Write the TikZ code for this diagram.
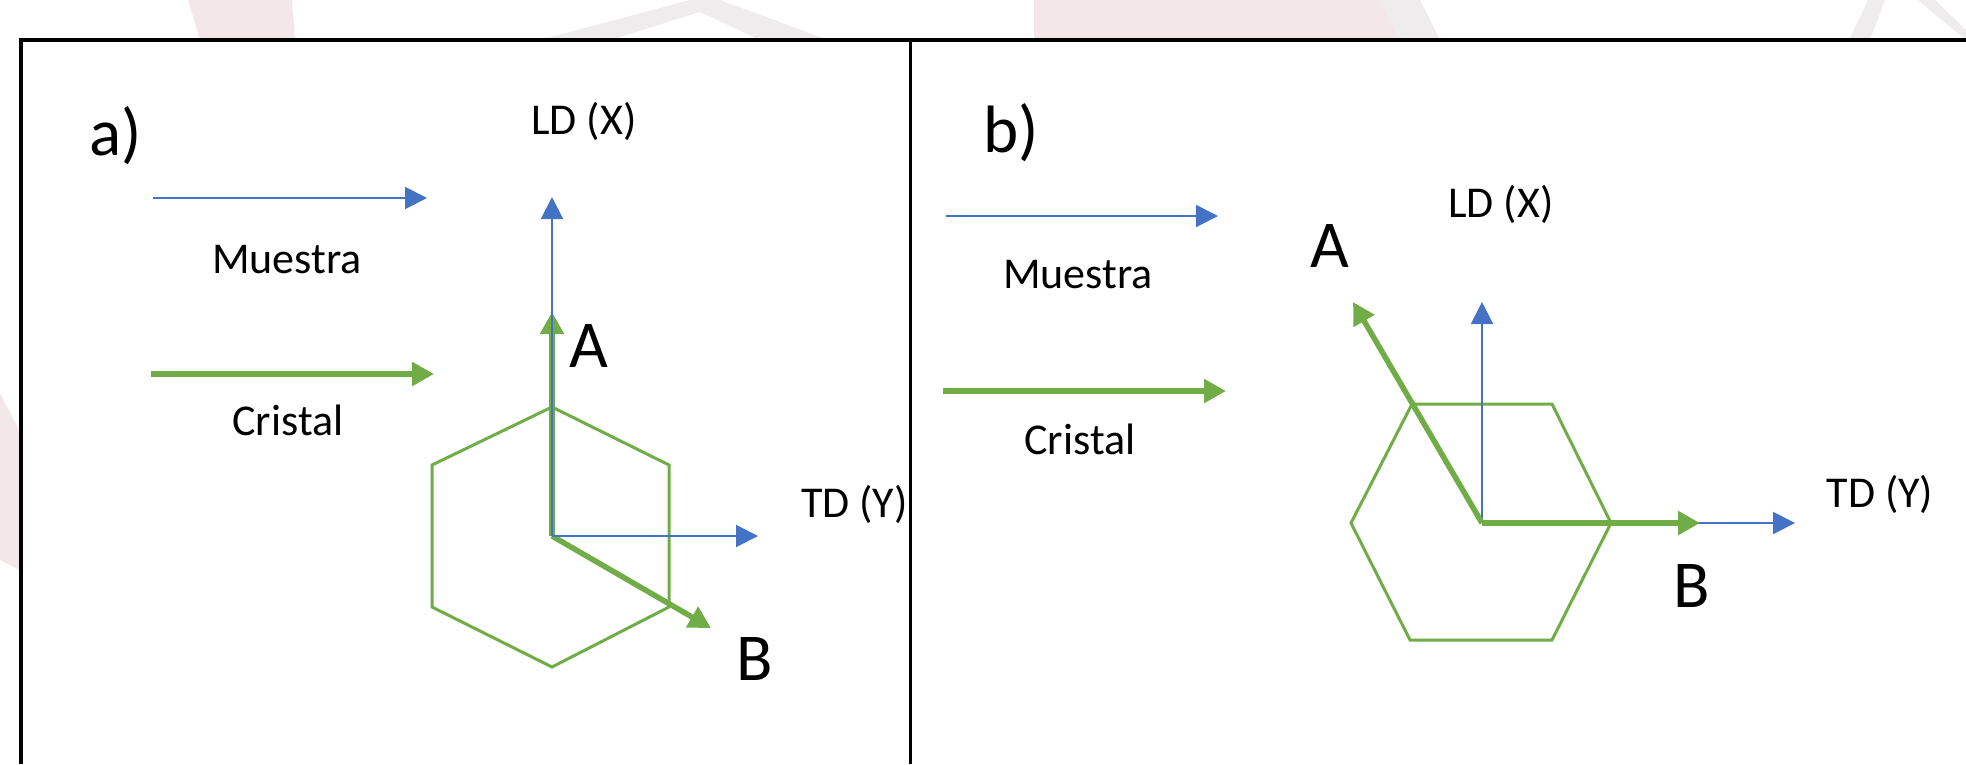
\documentclass[tikz,border=0pt]{standalone}
\usepackage{fontspec}
\setmainfont{Carlito}
\usetikzlibrary{arrows.meta}
\definecolor{axblue}{HTML}{4472C4}
\definecolor{crgreen}{HTML}{70AD47}
\definecolor{wmpink}{HTML}{F3E7E9}
\definecolor{wmgray}{HTML}{EEECEC}
\begin{document}
\begin{tikzpicture}[x=1pt,y=-1pt,
  thinax/.style={draw=axblue,line width=2pt,-{Triangle[length=22pt,width=22pt]}},
  thickax/.style={draw=crgreen,line width=5.5pt,-{Triangle[length=22pt,width=23pt]}},
  hexline/.style={draw=crgreen,line width=3pt,line join=miter},
  lbl/.style={inner sep=0pt,anchor=base,font=\fontsize{44}{52}\selectfont},
  biglbl/.style={inner sep=0pt,anchor=base,font=\fontsize{67}{80}\selectfont},
  wm/.style={fill=wmpink,draw=none},
  wmg/.style={fill=wmgray,draw=none}]
\useasboundingbox (0,0) rectangle (1966,764);
\fill[white] (0,0) rectangle (1966,764);
% faint watermark remnants outside the frame
\fill[wm] (188,0) -- (292,0) -- (295,40) -- (200,40) -- cycle;
\fill[wmg] (540,40) -- (690,0) -- (720,0) -- (828,40) -- (760,40) -- (700,12) -- (610,40) -- cycle;
\fill[wm] (1034,0) -- (1380,0) -- (1400,40) -- (1034,40) -- cycle;
\fill[wmg] (1380,0) -- (1420,0) -- (1440,40) -- (1400,40) -- cycle;
\fill[wmg] (1849,40) -- (1868,0) -- (1885,0) -- (1870,40) -- cycle;
\fill[wmg] (1918,0) -- (1935,0) -- (1966,30) -- (1966,40) -- cycle;
\fill[wm] (0,393) -- (19,430) -- (19,570) -- (0,560) -- cycle;
% frame
\draw[line width=4pt] (19,40) -- (1966,40);
\draw[line width=4pt] (21,38) -- (21,764);
\draw[line width=3pt] (910,40) -- (910,764);

% ---------- panel a ----------
\node[biglbl] (pa) at (116,155) {a)};
\coordinate (amS) at (153,198);  \coordinate (amE) at (427,198);
\coordinate (acS) at (151,374);  \coordinate (acE) at (434,374);
\draw[thinax] (amS) -- (amE);
\node[lbl] (amt) at (287,273) {Muestra};
\draw[thickax] (acS) -- (acE);
\node[lbl] (act) at (288,435) {Cristal};
\draw[hexline] (552,407) -- (669,465) -- (669,607) -- (552,667) -- (432,607) -- (432,465) -- cycle;
\coordinate (ao) at (552,536);
\coordinate (aX) at (552,197);
\coordinate (aY) at (758,536);
\coordinate (aA) at (552,312);
\coordinate (aB) at (711,628);
\draw[thickax] (ao) -- (aA);
\draw[thickax] (ao) -- (aB);
\draw[thinax] (ao) -- (aX);
\draw[thinax] (ao) -- (aY);
\node[lbl] (aLD) at (584,134) {LD (X)};
\node[lbl,anchor=base west] (aTD) at (801,517) {TD (Y)};
\node[biglbl] (aAl) at (589,367) {A};
\node[biglbl] (aBl) at (755,680) {B};

% ---------- panel b ----------
\node[biglbl] (pb) at (1011,152) {b)};
\coordinate (bmS) at (946,216);  \coordinate (bmE) at (1218,216);
\coordinate (bcS) at (943,391);  \coordinate (bcE) at (1226,391);
\draw[thinax] (bmS) -- (bmE);
\node[lbl] (bmt) at (1078,288) {Muestra};
\draw[thickax] (bcS) -- (bcE);
\node[lbl] (bct) at (1080,454) {Cristal};
\draw[hexline] (1412,404) -- (1552,404) -- (1611,523) -- (1552,640) -- (1410,640) -- (1351,523) -- cycle;
\coordinate (bo) at (1482,523);
\coordinate (bX) at (1482,302);
\coordinate (bY) at (1795,523);
\coordinate (bA) at (1353,302);
\coordinate (bB) at (1700,523);
\draw[thinax] (bo) -- (bX);
\draw[thinax] (bo) -- (bY);
\draw[thickax] (bo) -- (bA);
\draw[thickax] (bo) -- (bB);
\node[lbl] (bLD) at (1501,217) {LD (X)};
\node[lbl] (bTD) at (1880,507) {TD (Y)};
\node[biglbl] (bAl) at (1330,267) {A};
\node[biglbl] (bBl) at (1692,607) {B};
\end{tikzpicture}
\end{document}
